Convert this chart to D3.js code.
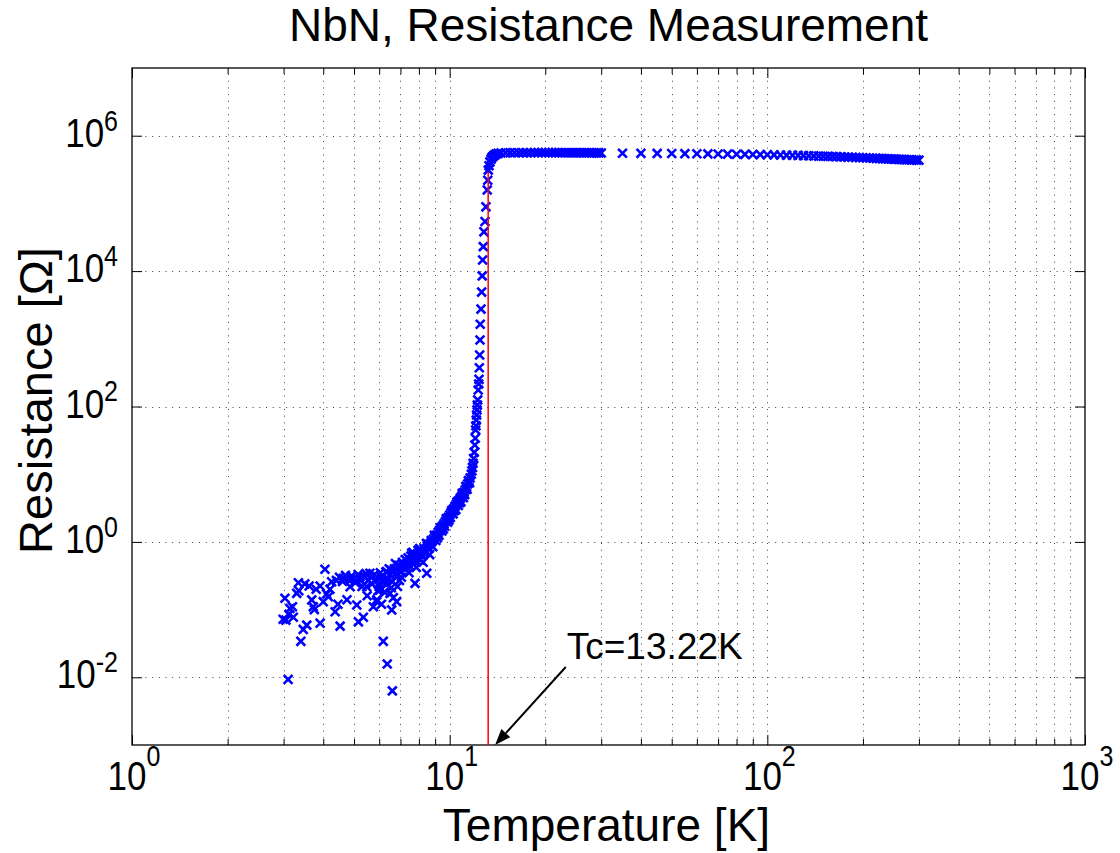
<!DOCTYPE html>
<html>
<head>
<meta charset="utf-8">
<script src="https://cdn.jsdelivr.net/npm/d3@7"></script>
<style>
  body { margin: 0; background: #fff; }
  svg { display: block; }
  text { font-family: "Liberation Sans", Arial, Helvetica, sans-serif; fill: #000; }
</style>
</head>
<body>
<script>
// ---- data ----
// noisy region below ~7 K
const noiseT = [4.05, 3.34, 3.03, 3.30, 3.14, 2.99, 3.22, 3.46, 3.55, 3.40, 3.10, 3.61, 3.91, 3.68, 3.72,
  4.00, 3.91, 4.36, 4.52, 4.25, 4.15, 4.63, 4.91, 5.22, 5.61, 6.34, 5.10, 5.16, 5.35, 5.75, 5.89, 6.18,
  6.36, 6.60, 6.57, 6.81, 7.78, 7.59, 8.47, 4.86, 5.48, 6.03, 6.49, 7.14, 8.06,
  4.4, 4.5, 4.6, 4.7, 4.8, 4.9, 5.0, 5.05, 5.15, 5.25, 5.3, 5.4, 5.45, 5.55, 5.65, 5.7, 5.8, 5.85, 5.95,
  6.05, 6.15, 6.25, 6.35, 6.45, 6.55, 6.65, 6.75, 6.85, 6.95, 5.5, 5.9, 6.1, 4.75, 4.45, 4.2, 3.8, 3.5,
  3.2, 3.05, 3.12, 3.35, 3.75, 4.1];
const noiseR = [0.394, 0.249, 0.147, 0.174, 0.104, 0.072, 0.077, 0.051, 0.059, 0.034, 0.0093, 0.223, 0.223, 0.139, 0.110,
  0.131, 0.063, 0.093, 0.057, 0.258, 0.155, 0.29, 0.281, 0.306, 0.344, 0.363, 0.117, 0.066, 0.077, 0.110, 0.131, 0.034,
  0.0157, 0.0063, 0.099, 0.131, 0.244, 0.68, 0.344, 0.218, 0.218, 0.195, 0.174, 0.43, 0.54,
  0.27, 0.30, 0.26, 0.32, 0.28, 0.31, 0.29, 0.25, 0.33, 0.27, 0.22, 0.30, 0.34, 0.27, 0.30, 0.24, 0.33, 0.28, 0.19,
  0.35, 0.27, 0.18, 0.24, 0.40, 0.21, 0.15, 0.34, 0.22, 0.27, 0.16, 0.14, 0.12, 0.14, 0.12, 0.20, 0.20, 0.24,
  0.11, 0.07, 0.085, 0.19, 0.10, 0.17];

// band rising from ~6 K to ~12 K
const riseT = [6.0, 6.1, 6.2, 6.3, 6.4, 6.5, 6.6, 6.7, 6.8, 6.9, 7.0, 7.1, 7.2, 7.3, 7.4, 7.5, 7.6, 7.7, 7.8, 7.9,
  8.0, 8.1, 8.2, 8.3, 8.4, 8.5, 8.6, 8.7, 8.8, 8.9, 9.0, 9.1, 9.2, 9.3, 9.4, 9.5, 9.6, 9.7, 9.8, 9.9,
  10.0, 10.1, 10.2, 10.3, 10.4, 10.5, 10.6, 10.7, 10.8, 10.9, 11.0, 11.1, 11.2, 11.3, 11.4, 11.5, 11.6,
  9.05, 9.25, 9.45, 9.65, 9.85, 10.05, 10.25, 10.45, 10.65, 10.85, 11.05,
  7.05, 7.25, 7.45, 7.65, 7.85, 8.05, 8.25, 8.45, 8.65, 8.85,
  9.15, 9.35, 9.55, 9.75, 9.95, 10.15, 10.35, 10.55, 10.75, 10.95, 11.15, 11.25, 11.35, 11.45, 11.55,
  8.95, 8.75, 8.55, 8.35, 8.15, 7.95, 7.75, 7.55, 7.35, 7.15, 6.95, 6.75, 6.55];
const riseR = [0.22, 0.30, 0.25, 0.36, 0.28, 0.33, 0.26, 0.40, 0.31, 0.45, 0.36, 0.50, 0.40, 0.47, 0.58, 0.44, 0.52, 0.62, 0.50, 0.66,
  0.58, 0.72, 0.64, 0.80, 0.72, 0.86, 0.80, 0.95, 1.02, 1.10, 1.18, 1.26, 1.38, 1.48, 1.62, 1.72, 1.85, 2.0, 2.15, 2.3,
  2.5, 2.7, 2.9, 3.1, 3.35, 3.6, 3.85, 4.1, 4.4, 4.7, 5.0, 5.4, 5.9, 6.5, 7.2, 8.0, 8.8,
  1.05, 1.25, 1.45, 1.7, 1.95, 2.3, 2.6, 3.0, 3.45, 3.9, 4.5,
  0.30, 0.55, 0.35, 0.70, 0.42, 0.80, 0.50, 0.95, 0.65, 0.85,
  1.15, 1.6, 1.55, 2.2, 2.1, 2.9, 2.9, 3.9, 3.8, 5.2, 5.0, 6.6, 6.0, 8.0, 7.5,
  1.25, 1.05, 0.92, 0.68, 0.62, 0.75, 0.55, 0.62, 0.42, 0.45, 0.38, 0.48, 0.38];

// superconducting transition and knee
const transT = [11.7, 11.75, 11.8, 11.85, 11.9, 11.95, 12.0, 12.04, 12.07, 12.1, 12.13, 12.16, 12.19, 12.22, 12.25,
  12.3, 12.34, 12.37, 12.40, 12.43, 12.46, 12.48, 12.55, 12.61, 12.66, 12.70, 12.76, 12.82, 12.92, 13.01,
  13.13, 13.18, 13.23, 13.3, 13.39, 13.5, 13.6, 13.72, 13.85, 14.0, 14.2];
const transR = [10.0, 11.2, 12.6, 14.5, 17.0, 21, 27, 34, 45, 52, 63, 75, 89, 105, 125,
  175, 215, 252, 374, 577, 960, 1640, 2750, 4900, 8500, 14600, 23000, 38000, 54000, 89000,
  158000, 220000, 310000, 360000, 410000, 450000, 480000, 500000, 520000, 535000, 548000];

// normal state
const normalT = [14.5, 15, 15.5, 16, 16.5, 17, 17.5, 18, 18.5, 19, 19.5, 20, 20.5, 21, 21.5, 22, 22.5, 23, 23.5,
  24, 24.5, 25, 25.5, 26, 26.5, 27, 27.5, 28, 28.5, 29, 29.5, 30,
  35, 40, 45, 50, 55, 60, 65, 70, 75, 80, 85, 90, 95, 100, 105, 110, 115, 120, 125, 130, 135, 140, 145, 150,
  155, 160, 165, 170, 175, 180, 185, 190, 195, 200, 205, 210, 215, 220, 225, 230, 235, 240, 245, 250,
  255, 260, 265, 270, 275, 280, 285, 290, 295, 300];
const normalR = [5.56e5, 5.58e5, 5.59e5, 5.60e5, 5.60e5, 5.61e5, 5.61e5, 5.61e5, 5.62e5, 5.62e5, 5.62e5, 5.62e5, 5.62e5, 5.62e5, 5.62e5, 5.62e5, 5.61e5, 5.61e5, 5.61e5,
  5.61e5, 5.61e5, 5.60e5, 5.60e5, 5.60e5, 5.59e5, 5.59e5, 5.59e5, 5.58e5, 5.58e5, 5.57e5, 5.57e5, 5.56e5,
  5.50e5, 5.49e5, 5.47e5, 5.45e5, 5.43e5, 5.41e5, 5.39e5, 5.37e5, 5.35e5, 5.33e5, 5.31e5, 5.28e5, 5.26e5, 5.24e5, 5.21e5, 5.19e5, 5.16e5, 5.14e5, 5.11e5, 5.08e5, 5.05e5, 5.03e5, 5.00e5, 4.97e5,
  4.95e5, 4.92e5, 4.90e5, 4.87e5, 4.85e5, 4.82e5, 4.80e5, 4.77e5, 4.75e5, 4.72e5, 4.70e5, 4.68e5, 4.65e5, 4.63e5, 4.61e5, 4.59e5, 4.57e5, 4.55e5, 4.53e5, 4.51e5,
  4.49e5, 4.47e5, 4.46e5, 4.44e5, 4.42e5, 4.41e5, 4.39e5, 4.38e5, 4.36e5, 4.35e5];

const xMajor = [1, 10, 100, 1000];
const yMajor = [1e-2, 1, 1e2, 1e4, 1e6];
const Tc = 13.22;
const TcTop = 2.9e5;
const arrowFrom = [23.2, 0.0142];
const arrowTo = [13.9, 1e-3];

// ---- layout ----
const width = 1120, height = 853;
const plot = {left: 132, right: 1085, top: 68, bottom: 745};

const svg = d3.select("body").append("svg")
  .attr("width", width)
  .attr("height", height);

svg.append("rect").attr("width", width).attr("height", height).attr("fill", "#fff");

const x = d3.scaleLog().domain([1, 1000]).range([plot.left, plot.right]);
const y = d3.scaleLog().domain([1e-3, 1e7]).range([plot.bottom, plot.top]);

const xAll = x.ticks().filter(v => v > 1 && v < 1000);
const xMinor = xAll.filter(v => !xMajor.includes(v));

// grid
const grid = svg.append("g").attr("stroke", "#000").attr("stroke-width", 1)
  .attr("stroke-dasharray", "1,5.7").attr("opacity", 0.75);
grid.selectAll("line.v").data(xAll).enter().append("line")
  .attr("x1", d => Math.round(x(d)) + 0.5).attr("x2", d => Math.round(x(d)) + 0.5)
  .attr("y1", plot.bottom).attr("y2", plot.top);
grid.selectAll("line.h").data(yMajor).enter().append("line")
  .attr("y1", d => Math.round(y(d)) + 0.5).attr("y2", d => Math.round(y(d)) + 0.5)
  .attr("x1", plot.left).attr("x2", plot.right);

// ticks (inward)
function tickAxis(axis, tf) {
  const g = svg.append("g").attr("transform", tf).call(axis.tickFormat(""));
  g.select(".domain").remove();
  g.selectAll(".tick line").attr("stroke", "#000");
  return g;
}
tickAxis(d3.axisBottom(x).tickValues(xMinor).tickSize(-6), `translate(0,${plot.bottom})`);
tickAxis(d3.axisBottom(x).tickValues(xMajor).tickSize(-10), `translate(0,${plot.bottom})`);
tickAxis(d3.axisTop(x).tickValues(xMinor).tickSize(-6), `translate(0,${plot.top})`);
tickAxis(d3.axisTop(x).tickValues(xMajor).tickSize(-10), `translate(0,${plot.top})`);
tickAxis(d3.axisLeft(y).tickValues(yMajor).tickSize(-10), `translate(${plot.left},0)`);
tickAxis(d3.axisRight(y).tickValues(yMajor).tickSize(-10), `translate(${plot.right},0)`);

// frame
svg.append("rect")
  .attr("x", plot.left).attr("y", plot.top)
  .attr("width", plot.right - plot.left).attr("height", plot.bottom - plot.top)
  .attr("fill", "none").attr("stroke", "#000").attr("stroke-width", 1.3);

// data markers
const points = [];
[[noiseT, noiseR], [riseT, riseR], [transT, transR], [normalT, normalR]].forEach(([ts, rs]) => {
  ts.forEach((t, i) => points.push({t: t, r: rs[i]}));
});

svg.append("g")
  .attr("stroke", "#0000ff").attr("stroke-width", 2.6).attr("fill", "none")
  .selectAll("path").data(points).enter().append("path")
  .attr("transform", d => `translate(${x(d.t)},${y(d.r)})`)
  .attr("d", "M-4.4,-4.4L4.4,4.4M-4.4,4.4L4.4,-4.4");

// Tc line
svg.append("line")
  .attr("x1", x(Tc)).attr("x2", x(Tc))
  .attr("y1", y(1e-3)).attr("y2", y(TcTop))
  .attr("stroke", "#ff0000").attr("stroke-width", 1.5);

// arrow annotation
const ax0 = x(arrowFrom[0]), ay0 = y(arrowFrom[1]);
const ax1 = x(arrowTo[0]), ay1 = y(arrowTo[1]);
const ang = Math.atan2(ay1 - ay0, ax1 - ax0);
const headL = 16, headW = 6;
const bx = ax1 - headL * Math.cos(ang), by = ay1 - headL * Math.sin(ang);
svg.append("line")
  .attr("x1", ax0).attr("y1", ay0).attr("x2", bx).attr("y2", by)
  .attr("stroke", "#000").attr("stroke-width", 2);
svg.append("path")
  .attr("d", `M${ax1},${ay1}L${bx - headW * Math.sin(ang)},${by + headW * Math.cos(ang)}L${bx + headW * Math.sin(ang)},${by - headW * Math.cos(ang)}Z`)
  .attr("fill", "#000");

svg.append("text")
  .attr("x", ax0 + 1).attr("y", y(0.0186))
  .attr("font-size", 37)
  .text("Tc=13.22K");

// tick labels
xMajor.forEach(v => {
  const t = svg.append("text")
    .attr("transform", `translate(${x(v) + 2},790) scale(1,1.15)`)
    .attr("text-anchor", "middle")
    .attr("font-size", 35);
  t.append("tspan").text("10");
  t.append("tspan").attr("dy", -21).attr("font-size", 25).text(Math.round(Math.log10(v)));
});
yMajor.forEach(v => {
  const t = svg.append("text")
    .attr("transform", `translate(118,${y(v) + 11}) scale(1,1.15)`)
    .attr("text-anchor", "end")
    .attr("font-size", 35);
  t.append("tspan").text("10");
  t.append("tspan").attr("dy", -14).attr("font-size", 25).text(Math.round(Math.log10(v)));
});

// titles
svg.append("text")
  .attr("x", (plot.left + plot.right) / 2).attr("y", 41)
  .attr("text-anchor", "middle").attr("font-size", 46)
  .text("NbN, Resistance Measurement");
svg.append("text")
  .attr("x", (plot.left + plot.right) / 2 - 2).attr("y", 841)
  .attr("text-anchor", "middle").attr("font-size", 46)
  .text("Temperature [K]");
svg.append("text")
  .attr("transform", `translate(52,${(plot.top + plot.bottom) / 2 - 6}) rotate(-90)`)
  .attr("text-anchor", "middle").attr("font-size", 47)
  .text("Resistance [Ω]");
</script>
</body>
</html>
